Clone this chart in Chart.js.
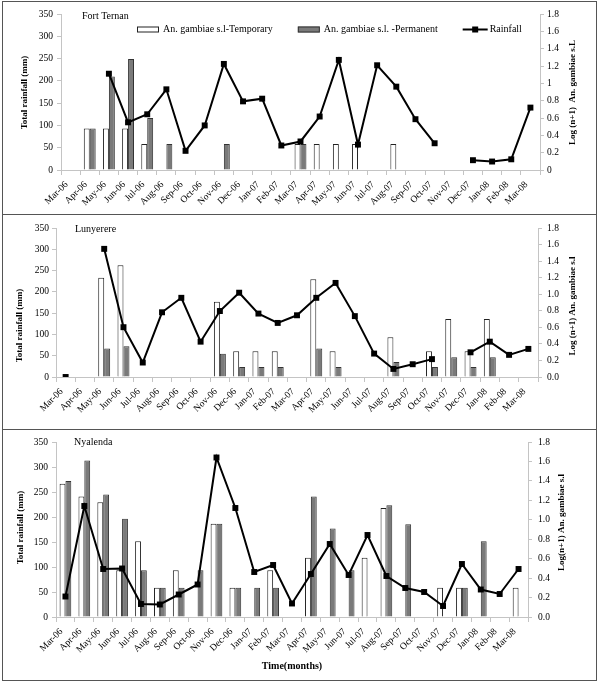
<!DOCTYPE html>
<html><head><meta charset="utf-8">
<script src="https://cdn.jsdelivr.net/npm/chart.js@4.4.1/dist/chart.umd.min.js"></script>
<style>
html,body{margin:0;padding:0;background:#fff;}
#wrap{position:relative;width:600px;height:682px;overflow:hidden;background:#fff;}
canvas{position:absolute;left:0;}
.ln{position:absolute;background:#555;}
</style></head><body>
<div id="wrap">
<canvas id="c1" width="600" height="214" style="top:0px;width:600px;height:214px"></canvas>
<canvas id="c2" width="600" height="215" style="top:214px;width:600px;height:215px"></canvas>
<canvas id="c3" width="600" height="253" style="top:429px;width:600px;height:253px"></canvas>
<div class="ln" style="left:2px;top:1px;width:1px;height:680px"></div>
<div class="ln" style="left:596px;top:1px;width:1px;height:680px"></div>
<div class="ln" style="left:2px;top:1px;width:595px;height:1px"></div>
<div class="ln" style="left:2px;top:214px;width:595px;height:1px"></div>
<div class="ln" style="left:2px;top:429px;width:595px;height:1px"></div>
<div class="ln" style="left:2px;top:680px;width:595px;height:1px"></div>
</div>
<script>
// ---------- DATA ----------
const months = ['Mar-06','Apr-06','May-06','Jun-06','Jul-06','Aug-06','Sep-06','Oct-06','Nov-06','Dec-06',
  'Jan-07','Feb-07','Mar-07','Apr-07','May-07','Jun-07','Jul-07','Aug-07','Sep-07','Oct-07','Nov-07','Dec-07',
  'Jan-08','Feb-08','Mar-08'];

// Fort Ternan
const ftRain = [null,null,216,107,125,181,43,100,238,154,160,55,64,120,247,57,235,187,114,60,null,22,19,24,140];
const ftTemp = [null,0.48,0.48,0.48,0.30,null,null,null,null,null,null,null,0.30,0.30,0.30,0.30,null,0.30,null,null,null,null,null,null,null];
const ftPerm = [null,0.48,1.08,1.28,0.60,0.30,null,null,0.30,null,null,null,0.30,null,null,null,null,null,null,null,null,null,null,null,null];

// Lunyerere
const luRain = [0,null,301,117,34,152,186,83,155,198,149,127,145,186,221,143,55,19,30,42,null,58,83,52,66];
const luTemp = [null,null,1.20,1.35,null,null,null,null,0.91,0.31,0.31,0.31,null,1.18,0.31,null,null,0.48,null,0.31,0.70,0.31,0.70,null,null];
const luPerm = [null,null,0.345,0.37,null,null,null,null,0.28,0.12,0.12,0.12,null,0.345,0.12,null,null,0.18,null,0.12,0.24,0.12,0.24,null,null];

// Nyalenda
const nyRain = [41,222,96,97,26,25,45,65,319,218,90,104,27,86,146,84,164,82,58,50,22,106,55,46,96];
const nyTemp = [1.37,1.24,1.18,0.48,0.78,0.30,0.48,null,0.96,0.30,null,0.48,null,0.61,null,null,0.61,1.12,null,null,0.30,0.30,null,null,0.30];
const nyPerm = [1.40,1.61,1.26,1.01,0.48,0.30,0.30,0.48,0.96,0.30,0.30,0.30,null,1.24,0.91,0.48,null,1.15,0.955,null,null,0.30,0.78,null,null];

const seriesNames = ['An. gambiae s.l-Temporary','An. gambiae s.l. -Permanent','Rainfall'];
const rainAxis = {min:0, max:350, step:50};
const logAxis = {min:0, max:1.8, step:0.2};

// ---------- STYLE ----------
const FONT = "'Liberation Serif','Times New Roman',serif";
Chart.defaults.font.family = FONT;
Chart.defaults.color = '#000';
const AXIS = '#c4c4c4';

const decorPlugin = {
  id: 'decor',
  afterDraw(chart, args, opts) {
    const ctx = chart.ctx;
    ctx.save();
    ctx.fillStyle = '#000';
    if (opts.title) {
      ctx.font = '10px ' + FONT;
      ctx.textAlign = 'left'; ctx.textBaseline = 'middle';
      ctx.fillText(opts.title.text, opts.title.x, opts.title.y);
    }
    (opts.axisTitles || []).forEach(t => {
      ctx.save();
      ctx.translate(t.x, t.y);
      ctx.rotate(-Math.PI / 2);
      ctx.font = 'bold 9px ' + FONT;
      ctx.textAlign = 'center'; ctx.textBaseline = 'middle';
      ctx.fillText(t.text, 0, 0);
      ctx.restore();
    });
    if (opts.legend) {
      let x = opts.legend.x;
      const y = opts.legend.y;
      ctx.font = '10px ' + FONT;
      ctx.textAlign = 'left'; ctx.textBaseline = 'middle';
      chart.data.datasets.forEach(ds => {
        if (ds.type === 'line') {
          ctx.strokeStyle = ds.borderColor; ctx.lineWidth = 2;
          ctx.beginPath(); ctx.moveTo(x, y); ctx.lineTo(x + 25, y); ctx.stroke();
          ctx.fillStyle = ds.borderColor;
          ctx.fillRect(x + 12.5 - 3, y - 3, 6, 6);
          x += 27;
        } else {
          ctx.fillStyle = ds.backgroundColor;
          ctx.fillRect(x, y - 3, 22, 6);
          ctx.strokeStyle = ds.borderColor; ctx.lineWidth = 1;
          ctx.strokeRect(x + 0.5, y - 2.5, 21, 5);
          x += 26;
        }
        ctx.fillStyle = '#000';
        ctx.fillText(ds.label, x, y);
        x += ctx.measureText(ds.label).width + 25;
      });
    }
    ctx.restore();
  }
};

function makeChart(id, rain, temp, perm, o) {
  return new Chart(document.getElementById(id), {
    type: 'bar',
    data: {
      labels: months,
      datasets: [
        {type:'bar', label:seriesNames[0], data:temp, yAxisID:'y1', backgroundColor:'#ffffff', borderColor:'#222', borderWidth:1,
         order:1, barPercentage:1, categoryPercentage:0.62},
        {type:'bar', label:seriesNames[1], data:perm, yAxisID:'y1', backgroundColor:'#7a7a7a', borderColor:'#333', borderWidth:1,
         order:1, barPercentage:1, categoryPercentage:0.62},
        {type:'line', label:seriesNames[2], data:rain, yAxisID:'y', borderColor:'#000', backgroundColor:'#000', borderWidth:2,
         pointStyle:'rect', pointRadius:4.2, pointBorderWidth:0, pointBackgroundColor:'#000', order:0, spanGaps:false, tension:0,
         clip:{left:10, top:10, right:10, bottom:0}}
      ]
    },
    options: {
      responsive:false, animation:false, devicePixelRatio:1,
      layout:{padding:{top:o.top, left:0, right:0, bottom:0}},
      plugins:{
        legend:{display:false}, tooltip:{enabled:false},
        decor:{title:o.title, axisTitles:o.axisTitles, legend:o.legend}
      },
      scales:{
        x:{
          type:'category', offset:true,
          grid:{offset:true, drawOnChartArea:false, drawTicks:true, tickLength:5, color:AXIS},
          border:{color:AXIS},
          ticks:{autoSkip:false, minRotation:45, maxRotation:45, padding:4, labelOffset:-4, font:{size:9.5, family:FONT}, color:'#000'},
          title:o.xTitle ? {display:true, text:o.xTitle, font:{size:10, weight:'bold', family:FONT}, padding:{top:0, bottom:10}, color:'#000'} : {display:false},
          afterFit: s => { s.height = o.xh; }
        },
        y:{
          position:'left', min:rainAxis.min, max:rainAxis.max,
          grid:{drawOnChartArea:false, drawTicks:true, tickLength:4, color:AXIS},
          border:{color:AXIS},
          ticks:{stepSize:rainAxis.step, padding:o.lpad, font:{size:9.5, family:FONT}, color:'#000'},
          afterFit: s => { s.width = o.lw; }
        },
        y1:{
          position:'right', min:logAxis.min, max:logAxis.max,
          grid:{drawOnChartArea:false, drawTicks:true, tickLength:4, color:AXIS},
          border:{color:AXIS},
          ticks:{stepSize:logAxis.step, padding:o.rpad, font:{size:9.5, family:FONT}, color:'#000',
                 callback: v => o.fixed ? (Math.round(v*10)/10).toFixed(1) : String(Math.round(v*10)/10)},
          afterFit: s => { s.width = o.rw; }
        }
      }
    },
    plugins:[decorPlugin]
  });
}

makeChart('c1', ftRain, ftTemp, ftPerm, {
  top:14, xh:44, lw:61, rw:60, lpad:4, rpad:3, fixed:false,
  title:{text:'Fort Ternan', x:82, y:16},
  legend:{x:137, y:29.5},
  axisTitles:[{text:'Total rainfall (mm)', x:25, y:92.5},{text:'Log (n+1)  An. gambiae s.L', x:573, y:92.5}]
});
makeChart('c2', luRain, luTemp, luPerm, {
  top:14, xh:52, lw:56, rw:62, lpad:3, rpad:5, fixed:true,
  title:{text:'Lunyerere', x:75, y:15},
  axisTitles:[{text:'Total rainfall (mm)', x:20, y:111.5},{text:'Log (n+1) An. gambiae s.l', x:573, y:92}]
});
makeChart('c3', nyRain, nyTemp, nyPerm, {
  top:13, xh:65, lw:56, rw:72, lpad:4, rpad:6, fixed:true,
  title:{text:'Nyalenda', x:74, y:13},
  axisTitles:[{text:'Total rainfall (mm)', x:21, y:98.5},{text:'Log(n+1) An. gambiae s.l', x:562, y:93.5}],
  xTitle:'Time(months)'
});
</script>
</body></html>
